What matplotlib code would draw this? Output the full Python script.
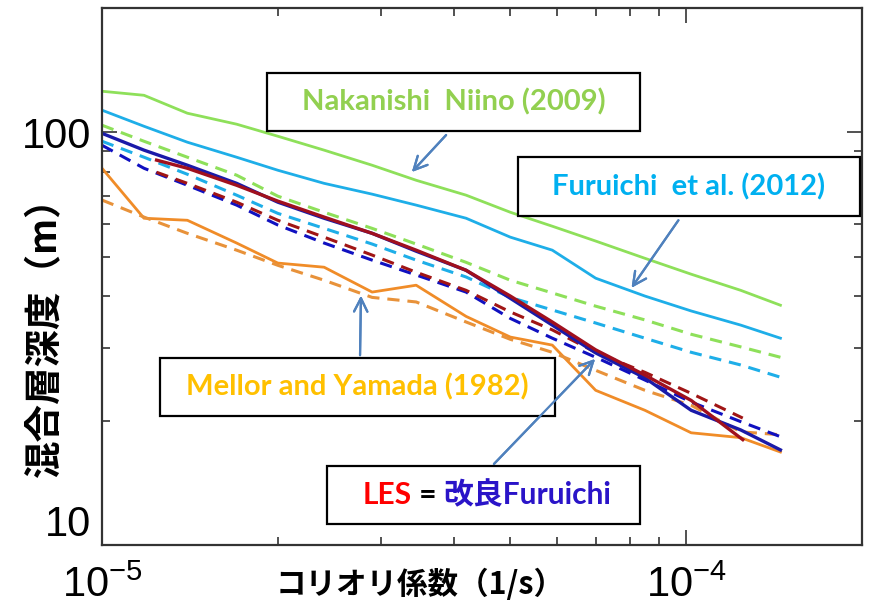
import numpy as np
import matplotlib.pyplot as plt
from matplotlib.patches import Rectangle
from matplotlib.offsetbox import TextArea, HPacker, AnnotationBbox

plt.rcParams['font.family'] = ['Liberation Sans', 'Noto Sans CJK JP']
plt.rcParams['mathtext.default'] = 'regular'

# --- data: Coriolis parameter (1/s) vs mixed layer depth (m)
coriolis = np.array([1.0, 1.18, 1.4, 1.7, 2.0, 2.4, 2.9, 3.45, 4.2, 5.0,
                     5.9, 7.0, 8.5, 10.2, 12.4, 14.5]) * 1e-5
coriolis_les = np.array([1.24, 1.4, 1.7, 2.0, 2.4, 2.9, 3.45, 4.2, 5.0,
                         5.9, 7.0, 8.5, 10.2, 12.5]) * 1e-5

nakanishi_solid = [125.7, 122.9, 111.2, 104.6, 97.8, 90.5, 83.2, 76.5, 70.4, 64.0,
                   59.2, 54.5, 49.5, 45.3, 41.4, 38.1]
nakanishi_dash = [104.0, 95.1, 87.0, 78.7, 70.0, 64.0, 58.5, 53.6, 48.4, 43.8,
                  40.8, 37.9, 35.1, 32.4, 30.2, 28.5]
furuichi_solid = [113.1, 103.4, 94.6, 87.0, 80.9, 75.2, 70.8, 66.6, 61.9, 55.7,
                  51.8, 44.3, 40.1, 36.9, 34.1, 31.7]
furuichi_dash = [95.1, 87.0, 79.1, 70.4, 63.6, 58.5, 53.6, 49.0, 44.6, 39.8,
                 37.1, 34.5, 31.7, 29.3, 27.3, 25.5]
kairyo_solid = [99.4, 90.5, 83.2, 75.2, 67.7, 61.9, 56.9, 51.5, 46.3, 39.6,
                34.1, 29.2, 25.4, 21.2, 19.0, 17.0]
kairyo_dash = [93.0, 81.8, 74.4, 66.6, 59.6, 53.9, 49.0, 45.1, 41.0, 35.4,
               31.7, 28.5, 25.1, 22.2, 19.9, 18.3]
mellor_solid = [81.8, 61.9, 61.2, 53.9, 48.2, 47.1, 41.0, 42.6, 35.8, 31.9,
                30.5, 23.7, 21.2, 18.7, 18.2, 16.8]
mellor_dash = [68.5, 62.3, 56.9, 51.8, 47.6, 43.8, 39.8, 38.8, 34.7, 31.5,
               29.3, 26.5, 23.7, 21.8, 18.8, 18.5]
les_solid = [85.6, 81.8, 74.4, 68.1, 62.3, 56.9, 51.8, 46.3, 40.1, 34.7,
             29.7, 25.8, 22.4, 18.0]
les_dash = [80.0, 75.2, 67.7, 61.2, 55.7, 50.4, 45.8, 41.4, 36.7, 33.2,
            29.3, 26.2, 23.3, 20.3]

W, H = 869, 612


def fp(x, y):
    # pixel position (top-left origin) -> figure fraction
    return (x / W, 1 - y / H)


fig = plt.figure(figsize=(8.69, 6.12), dpi=100)
ax = fig.add_axes([102 / W, 1 - 545 / H, 760 / W, 537 / H])

dash = (0, (4, 2.6))
ax.plot(coriolis, nakanishi_solid, color='#8EE05A', lw=2)
ax.plot(coriolis, nakanishi_dash, color='#8EE05A', lw=2.2, ls=dash)
ax.plot(coriolis, furuichi_solid, color='#1EAEE8', lw=2)
ax.plot(coriolis, furuichi_dash, color='#1EAEE8', lw=2.2, ls=dash)
ax.plot(coriolis, mellor_solid, color='#F08C28', lw=2)
ax.plot(coriolis, mellor_dash, color='#E8923A', lw=2.2, ls=dash)
ax.plot(coriolis, kairyo_dash, color='#1010C0', lw=2.2, ls=dash)
ax.plot(coriolis_les, les_dash, color='#A01515', lw=2.2, ls=dash)
ax.plot(coriolis, kairyo_solid, color='#1A1AA8', lw=2.4)
ax.plot(coriolis_les, les_solid, color='#A0101E', lw=2.4)

ax.set_xscale('log')
ax.set_yscale('log')
ax.set_xlim(1e-5, 2e-4)
ax.set_ylim(10, 200)
ax.set_xticks([1e-5, 1e-4])
ax.set_xticklabels(['$10^{-5}$', '$10^{-4}$'])
ax.set_yticks([10, 100])
ax.set_yticklabels(['10', '100'])
ax.tick_params(which='both', direction='in', top=True, right=True,
               width=1.2, color='#333333', labelsize=30)
ax.tick_params(which='major', length=11)
ax.tick_params(which='minor', length=5.5)
ax.tick_params(axis='x', pad=15)
ax.tick_params(axis='y', pad=8)
ax.yaxis.set_minor_formatter(plt.NullFormatter())
ax.xaxis.set_minor_formatter(plt.NullFormatter())
# the "10" label sits just above the corner in the original
ax.get_yticklabels()[0].set_va('bottom')
for s in ax.spines.values():
    s.set_linewidth(1.6)
    s.set_color('#333333')

# axis titles
fig.text(*fp(420, 585), 'コリオリ係数（1/s）', ha='center', va='center',
         fontsize=22, fontweight='bold', family=['Noto Sans CJK JP'])
fig.text(*fp(45, 328), '混合層深度（m）', ha='center', va='center', rotation=90,
         fontsize=27, fontweight='bold', family=['Noto Sans CJK JP'])

# annotation boxes
lab_font = ['Lato', 'Noto Sans CJK JP']
boxes = [
    ((267, 73, 640, 131), 'Nakanishi  Niino (2009)', '#92D050'),
    ((518, 157, 860, 216), 'Furuichi  et al. (2012)', '#00B0F0'),
    ((160, 358, 555, 416), 'Mellor and Yamada (1982)', '#FFC000'),
]
for (x0, y0, x1, y1), label, col in boxes:
    fig.patches.append(Rectangle(fp(x0, y1), (x1 - x0) / W, (y1 - y0) / H,
                                 transform=fig.transFigure, fill=True,
                                 facecolor='white', edgecolor='black', lw=1.6))
    fig.text(*fp((x0 + x1) / 2, (y0 + y1) / 2), label, ha='center', va='center',
             color=col, fontsize=21, fontweight='bold', family=lab_font)

fig.patches.append(Rectangle(fp(327, 524), 313 / W, 58 / H, transform=fig.transFigure,
                             facecolor='white', edgecolor='black', lw=1.6))
parts = [TextArea(t, textprops=dict(color=c, fontsize=21.5, fontweight='bold', family=lab_font))
         for t, c in [('LES', '#FF0000'), (' = ', 'black'), ('改良Furuichi', '#2A14C8')]]
ab = AnnotationBbox(HPacker(children=parts, sep=0, pad=0, align='baseline'),
                    fp(487, 495), xycoords='figure fraction', frameon=False)
fig.add_artist(ab)

# arrows
arrows = [((448, 133), (410, 174)), ((680, 218), (630, 290)),
          ((360, 358), (361, 293)), ((492, 466), (597, 357))]
for start, end in arrows:
    fig.add_artist(plt.annotate('', xy=fp(*end), xytext=fp(*start),
                                xycoords='figure fraction', textcoords='figure fraction',
                                arrowprops=dict(arrowstyle='->', color='#4F81BD', lw=1.6,
                                                mutation_scale=24)))

fig.savefig('out.png', dpi=100)
